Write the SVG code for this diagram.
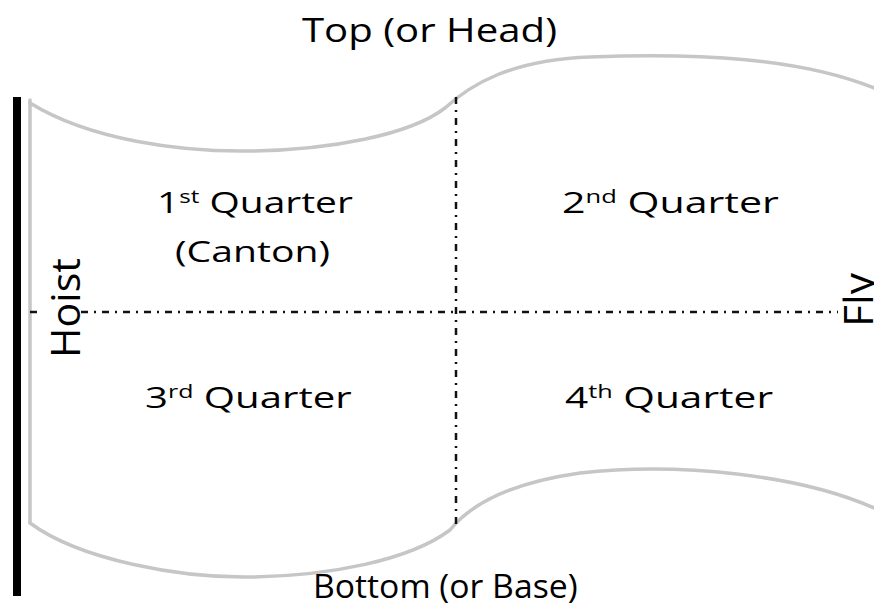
<svg xmlns="http://www.w3.org/2000/svg" width="874" height="612" viewBox="0 0 874 612">
  <style>
    .lbl { font-family: "Open Sans", "Liberation Sans", sans-serif; fill: #000; }
    .big { font-size: 33px; }
    .q { font-size: 29px; }
    .sup { font-size: 18px; }
    .side { font-size: 41px; }
    .edge { fill: none; stroke: #c6c6c6; stroke-width: 3.5; stroke-linecap: round; stroke-linejoin: round; }
    .divider { fill: none; stroke: #111; stroke-width: 2.5; stroke-dasharray: 7 6 2 6; }
  </style>
  <rect width="874" height="612" fill="#fff"/>

  <g id="flag-outline">
    <path class="edge" d="M30,100 L30,523"/>
    <path class="edge" d="M30,103 C 90,140 180,152 250,151 C 330,150 410,135 445,108 C 470,85 510,60 590,57 C 700,53 800,58 874,88"/>
    <path class="edge" d="M30,523 C 80,560 180,578 250,577 C 330,576 410,560 450,530 C 470,505 510,483 580,473 C 680,462 800,475 874,508"/>
  </g>

  <g id="pole">
    <rect x="13" y="97" width="8" height="499" fill="#000"/>
  </g>

  <g id="dividers">
    <path class="divider" d="M456,97 L456,528"/>
    <path class="divider" d="M30,312 L38,312"/>
    <path class="divider" d="M81,312 L838,312"/>
  </g>

  <g id="top-label">
    <text class="lbl big" transform="translate(302,42) scale(1.2,1)" textLength="212.5" lengthAdjust="spacingAndGlyphs">Top (or Head)</text>
  </g>
  <g id="bottom-label">
    <text class="lbl big" transform="translate(313,598) scale(1.05,1)" textLength="252" lengthAdjust="spacingAndGlyphs">Bottom (or Base)</text>
  </g>

  <g id="q1">
    <text class="lbl q" transform="translate(157,213) scale(1.36,1)" textLength="144" lengthAdjust="spacingAndGlyphs">1<tspan class="sup" dy="-10">st</tspan><tspan dy="10"> Quarter</tspan></text>
    <text class="lbl q" transform="translate(175,262) scale(1.36,1)" textLength="114" lengthAdjust="spacingAndGlyphs">(Canton)</text>
  </g>
  <g id="q2">
    <text class="lbl q" transform="translate(562,213) scale(1.36,1)" textLength="159.5" lengthAdjust="spacingAndGlyphs">2<tspan class="sup" dy="-10">nd</tspan><tspan dy="10"> Quarter</tspan></text>
  </g>
  <g id="q3">
    <text class="lbl q" transform="translate(145,408) scale(1.36,1)" textLength="152" lengthAdjust="spacingAndGlyphs">3<tspan class="sup" dy="-10">rd</tspan><tspan dy="10"> Quarter</tspan></text>
  </g>
  <g id="q4">
    <text class="lbl q" transform="translate(565,408) scale(1.36,1)" textLength="153" lengthAdjust="spacingAndGlyphs">4<tspan class="sup" dy="-10">th</tspan><tspan dy="10"> Quarter</tspan></text>
  </g>

  <g id="hoist-label">
    <text class="lbl side" transform="translate(80,358) rotate(-90)" textLength="100" lengthAdjust="spacingAndGlyphs">Hoist</text>
  </g>
  <g id="fly-label">
    <text class="lbl side" transform="translate(873,327) rotate(-90)" textLength="54" lengthAdjust="spacingAndGlyphs">Fly</text>
  </g>
</svg>
